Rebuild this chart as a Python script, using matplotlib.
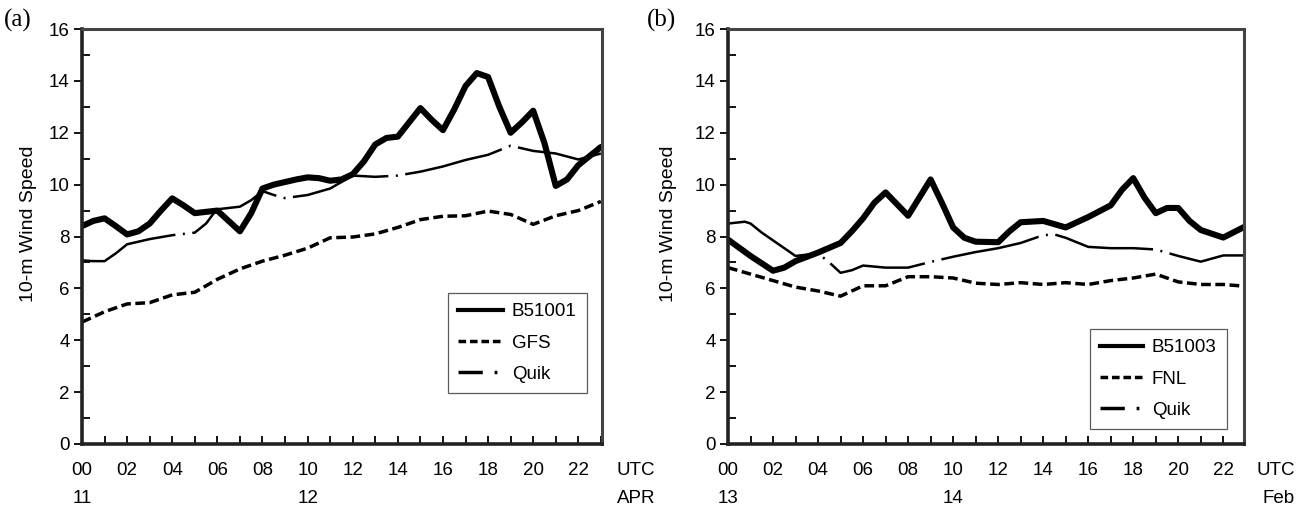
import matplotlib
matplotlib.use("Agg")
import matplotlib.pyplot as plt
from matplotlib.lines import Line2D
from matplotlib.ticker import MultipleLocator

plt.rcParams['font.family'] = ['Liberation Sans', 'DejaVu Sans']

# ---------------- Panel (a): April ----------------
a_buoy_t = [0, 0.5, 1, 1.5, 2, 2.5, 3, 3.5, 4, 4.5, 5, 5.5, 6, 6.5, 7, 7.5, 8, 8.5, 9, 9.5,
            10, 10.5, 11, 11.5, 12, 12.5, 13, 13.5, 14, 14.5, 15, 15.5, 16, 16.5, 17, 17.5,
            18, 18.5, 19, 19.5, 20, 20.5, 21, 21.5, 22, 22.5, 23]
a_buoy = [8.4, 8.6, 8.7, 8.4, 8.08, 8.2, 8.5, 9.0, 9.47, 9.2, 8.9, 8.95, 9.0, 8.6, 8.2, 8.9,
          9.85, 10.0, 10.1, 10.2, 10.28, 10.25, 10.15, 10.2, 10.4, 10.9, 11.55, 11.8, 11.85,
          12.4, 12.95, 12.5, 12.1, 12.9, 13.8, 14.3, 14.15, 13.0, 12.0, 12.4, 12.85, 11.6,
          9.95, 10.2, 10.75, 11.1, 11.45]
a_model_t = list(range(24))
a_model = [4.7, 5.1, 5.4, 5.45, 5.75, 5.85, 6.35, 6.75, 7.05, 7.28, 7.55, 7.95, 7.98, 8.1,
           8.35, 8.65, 8.78, 8.8, 8.98, 8.85, 8.47, 8.8, 9.0, 9.35]
a_quik_t = [0, 0.5, 1, 1.5, 2, 3, 4, 5, 5.5, 5.8, 6, 6.5, 7, 7.5, 8, 8.5, 9, 10, 11, 11.5,
            12, 13, 14, 15, 16, 17, 18, 19, 20, 21, 22, 23]
a_quik = [7.08, 7.05, 7.05, 7.35, 7.7, 7.9, 8.05, 8.15, 8.5, 8.85, 9.05, 9.1, 9.15, 9.4,
          9.75, 9.6, 9.48, 9.6, 9.85, 10.1, 10.35, 10.3, 10.35, 10.5, 10.7, 10.95, 11.15,
          11.5, 11.3, 11.2, 10.97, 11.2]

# ---------------- Panel (b): February ----------------
b_buoy_t = [0, 1, 2, 2.5, 3, 4, 5, 5.5, 6, 6.5, 7, 7.5, 8, 8.5, 9, 9.5, 10, 10.5, 11, 12,
            12.5, 13, 14, 15, 16, 17, 17.5, 18, 18.5, 19, 19.5, 20, 20.5, 21, 22, 23]
b_buoy = [7.88, 7.25, 6.68, 6.8, 7.05, 7.38, 7.75, 8.2, 8.7, 9.3, 9.7, 9.25, 8.8, 9.5, 10.2,
          9.3, 8.35, 7.95, 7.8, 7.78, 8.2, 8.55, 8.6, 8.35, 8.75, 9.2, 9.8, 10.25, 9.5, 8.9,
          9.1, 9.1, 8.6, 8.25, 7.96, 8.4]
b_model_t = list(range(24))
b_model = [6.8, 6.55, 6.3, 6.05, 5.9, 5.7, 6.1, 6.1, 6.45, 6.45, 6.4, 6.2, 6.15, 6.22, 6.15,
           6.22, 6.15, 6.3, 6.4, 6.55, 6.25, 6.15, 6.15, 6.08]
b_quik_t = [0, 0.75, 1, 1.5, 2, 3, 4, 4.5, 5, 5.5, 6, 7, 8, 9, 10, 11, 12, 13, 14, 14.5, 15,
            16, 17, 18, 19, 20, 21, 22, 23]
b_quik = [8.5, 8.57, 8.5, 8.15, 7.85, 7.25, 7.35, 7.0, 6.6, 6.7, 6.88, 6.8, 6.8, 7.02, 7.22,
          7.4, 7.55, 7.75, 8.05, 8.08, 7.95, 7.6, 7.55, 7.55, 7.5, 7.25, 7.03, 7.27, 7.27]

hour_labels = ['00', '02', '04', '06', '08', '10', '12', '14', '16', '18', '20', '22']
a_day_labels = {'00': '11', '10': '12'}
b_day_labels = {'00': '13', '10': '14'}
a_names = ['B51001', 'GFS', 'Quik']
b_names = ['B51003', 'FNL', 'Quik']
ylabel = '10-m Wind Speed'

W, H = 1299, 508
FS = 13.5
fig = plt.figure(figsize=(W / 100, H / 100), dpi=100)

quik_style = (0, (40, 3, 0.8, 3))
dash_style = (0, (2.8, 1.3))


def setup(ax, xmax, day_labels, ylab_x):
    ax.set_xlim(0, xmax)
    ax.set_ylim(0, 16)
    ax.yaxis.set_major_locator(MultipleLocator(2))
    ax.yaxis.set_minor_locator(MultipleLocator(1))
    ax.xaxis.set_minor_locator(MultipleLocator(1))
    ax.tick_params(axis='y', which='major', direction='out', length=6, width=1.3,
                   labelsize=FS, pad=3)
    ax.tick_params(axis='y', which='minor', direction='in', length=6, width=1.3)
    ax.tick_params(axis='x', which='both', direction='in', length=5.5, width=1.3,
                   labelsize=FS, pad=13)
    ticks = [2 * i for i in range(12)]
    labels = []
    for lab in hour_labels:
        labels.append(lab + ('\n' + day_labels[lab] if lab in day_labels else ''))
    ax.set_xticks(ticks)
    ax.set_xticklabels(labels)
    for t in ax.get_xticklabels():
        t.set_linespacing(1.85)
    for s in ['left', 'bottom']:
        ax.spines[s].set_linewidth(2.6)
        ax.spines[s].set_color('#222222')
    for s in ['top', 'right']:
        ax.spines[s].set_linewidth(2.2)
        ax.spines[s].set_color('#444444')
    ax.set_ylabel(ylabel, fontsize=FS + 0.5)
    ax.yaxis.set_label_coords(ylab_x, 0.53)


def legend(ax, names, anchor, hlen):
    handles = [
        Line2D([], [], color='black', lw=3.0),
        Line2D([], [], color='black', lw=2.5, linestyle=(0, (2.2, 1.1))),
        Line2D([], [], color='black', lw=2.5, linestyle=(0, (7, 3.4, 0.8, 3.4))),
    ]
    leg = ax.legend(handles, names, loc='upper left', bbox_to_anchor=anchor,
                    bbox_transform=fig.transFigure, fontsize=FS, frameon=True,
                    fancybox=False, edgecolor='#333333', handlelength=hlen,
                    handletextpad=0.45, labelspacing=0.75, borderpad=0.55,
                    borderaxespad=0)
    leg.get_frame().set_linewidth(0.9)


# Panel (a)
ax1 = fig.add_axes([82 / W, 64 / H, 520 / W, 415 / H])
ax1.plot(a_buoy_t, a_buoy, color='black', lw=4.4, solid_capstyle='round',
         solid_joinstyle='round')
ax1.plot(a_model_t, a_model, color='black', lw=2.5, linestyle=dash_style)
ax1.plot(a_quik_t, a_quik, color='black', lw=1.8, linestyle=quik_style)
setup(ax1, 23.05, a_day_labels, -0.087)
legend(ax1, a_names, (448 / W, 1 - 293 / H), 2.4)

# Panel (b)
ax2 = fig.add_axes([728 / W, 64 / H, 516 / W, 415 / H])
ax2.plot(b_buoy_t, b_buoy, color='black', lw=4.4, solid_capstyle='round',
         solid_joinstyle='round')
ax2.plot(b_model_t, b_model, color='black', lw=2.5, linestyle=dash_style)
ax2.plot(b_quik_t, b_quik, color='black', lw=1.8, linestyle=quik_style)
setup(ax2, 22.92, b_day_labels, -0.099)
legend(ax2, b_names, (1090 / W, 1 - 329 / H), 2.3)

# Panel letters and unit labels
fig.text(4 / W, 1 - 20 / H, '(a)', family=['Liberation Serif', 'DejaVu Serif'],
         fontsize=18, va='center', ha='left')
fig.text(647 / W, 1 - 20 / H, '(b)', family=['Liberation Serif', 'DejaVu Serif'],
         fontsize=18, va='center', ha='left')
fig.text(617 / W, 1 - 462 / H, 'UTC\nAPR', fontsize=FS, va='top', ha='left',
         linespacing=1.85)
fig.text(1295 / W, 1 - 462 / H, 'UTC\nFeb', fontsize=FS, va='top', ha='right',
         multialignment='right', linespacing=1.85)

fig.savefig('out.png', dpi=100, facecolor='white')
